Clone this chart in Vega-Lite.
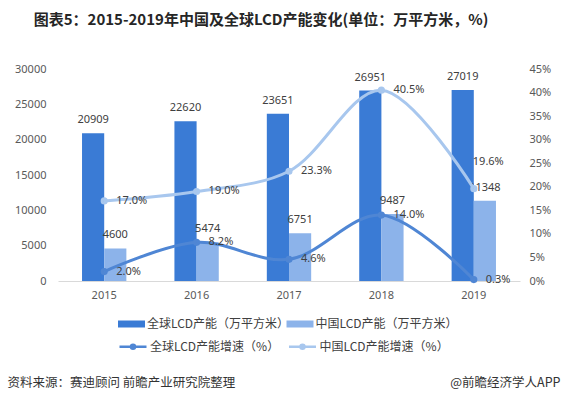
{
  "$schema": "https://vega.github.io/schema/vega-lite/v6.json",
  "width": 462,
  "height": 212,
  "autosize": {"type": "none"},
  "padding": {"left": 58, "top": 69, "right": 46, "bottom": 115},
  "background": "white",
  "config": {"view": {"stroke": null}, "font": "Noto Sans CJK SC"},
  "title": {
    "text": "图表5：2015-2019年中国及全球LCD产能变化(单位：万平方米，%)",
    "fontSize": 15,
    "fontWeight": "bold",
    "font": "Noto Sans CJK SC",
    "color": "#262626",
    "anchor": "middle",
    "baseline": "middle",
    "offset": 28,
    "dx": -28
  },
  "datasets": {
    "cap": [
      {"year": "2015", "series": "全球LCD产能（万平方米）", "value": 20909},
      {"year": "2015", "series": "中国LCD产能（万平方米）", "value": 4600},
      {"year": "2016", "series": "全球LCD产能（万平方米）", "value": 22620},
      {"year": "2016", "series": "中国LCD产能（万平方米）", "value": 5474},
      {"year": "2017", "series": "全球LCD产能（万平方米）", "value": 23651},
      {"year": "2017", "series": "中国LCD产能（万平方米）", "value": 6751},
      {"year": "2018", "series": "全球LCD产能（万平方米）", "value": 26951},
      {"year": "2018", "series": "中国LCD产能（万平方米）", "value": 9487},
      {"year": "2019", "series": "全球LCD产能（万平方米）", "value": 27019},
      {"year": "2019", "series": "中国LCD产能（万平方米）", "value": 11348}
    ],
    "growth": [
      {"year": "2015", "series": "全球LCD产能增速（%）", "rate": 0.02},
      {"year": "2016", "series": "全球LCD产能增速（%）", "rate": 0.082},
      {"year": "2017", "series": "全球LCD产能增速（%）", "rate": 0.046},
      {"year": "2018", "series": "全球LCD产能增速（%）", "rate": 0.14},
      {"year": "2019", "series": "全球LCD产能增速（%）", "rate": 0.003},
      {"year": "2015", "series": "中国LCD产能增速（%）", "rate": 0.17},
      {"year": "2016", "series": "中国LCD产能增速（%）", "rate": 0.19},
      {"year": "2017", "series": "中国LCD产能增速（%）", "rate": 0.233},
      {"year": "2018", "series": "中国LCD产能增速（%）", "rate": 0.405},
      {"year": "2019", "series": "中国LCD产能增速（%）", "rate": 0.196}
    ]
  },
  "encoding": {
    "x": {
      "field": "year",
      "type": "nominal",
      "sort": null,
      "scale": {"paddingInner": 0.52, "paddingOuter": 0.26},
      "axis": {
        "labelAngle": 0,
        "labelFont": "Noto Sans",
        "labelFontSize": 11,
        "labelColor": "#595959",
        "labelPadding": 8,
        "ticks": false,
        "domainColor": "#d9d9d9",
        "domainWidth": 1,
        "title": "资料来源：赛迪顾问 前瞻产业研究院整理",
        "titleFont": "Noto Sans CJK SC",
        "titleFontSize": 12.5,
        "titleFontWeight": "normal",
        "titleColor": "#333333",
        "titleAnchor": "start",
        "titleAlign": "left",
        "titleBaseline": "middle",
        "titleX": -51,
        "titleY": 101
      }
    }
  },
  "layer": [
    {
      "data": {"name": "cap"},
      "encoding": {
        "y": {
          "field": "value",
          "type": "quantitative",
          "scale": {"domain": [0, 30000]},
          "axis": {
            "orient": "left",
            "values": [0, 5000, 10000, 15000, 20000, 25000, 30000],
            "format": "d",
            "grid": false,
            "ticks": false,
            "domain": false,
            "labelPadding": 12,
            "labelFont": "Noto Sans",
            "labelFontSize": 11,
            "labelColor": "#595959",
            "title": null
          }
        },
        "xOffset": {
          "field": "series",
          "type": "nominal",
          "sort": null,
          "scale": {"domain": ["全球LCD产能（万平方米）", "中国LCD产能（万平方米）"], "paddingInner": 0, "paddingOuter": 0}
        }
      },
      "layer": [
        {
          "mark": {"type": "bar"},
          "encoding": {
            "color": {
              "field": "series",
              "type": "nominal",
              "scale": {
                "domain": ["全球LCD产能（万平方米）", "中国LCD产能（万平方米）"],
                "range": ["#3a7bd5", "#8cb3ea"]
              },
              "legend": {
                "orient": "none",
                "legendX": 63.5,
                "legendY": 245,
                "direction": "horizontal",
                "columns": 2,
                "title": null,
                "symbolSize": 400,
                "symbolType": "M-1.35,-0.35H1.35V0.35H-1.35Z",
                "symbolStrokeWidth": 0,
                "labelFont": "Noto Sans CJK SC",
                "labelFontSize": 12,
                "labelColor": "#404040",
                "labelOffset": 5.5,
                "columnPadding": -3.5,
                "rowPadding": 1,
                "padding": 0,
                "labelLimit": 300
              }
            }
          }
        },
        {
          "mark": {"type": "text", "dy": -13, "baseline": "middle", "fontSize": 11, "font": "Noto Sans", "color": "#404040"},
          "encoding": {
            "text": {"field": "value", "type": "quantitative", "format": "d"}
          }
        }
      ]
    },
    {
      "data": {"name": "growth"},
      "encoding": {
        "y": {
          "field": "rate",
          "type": "quantitative",
          "scale": {"domain": [0, 0.45]},
          "axis": {
            "orient": "right",
            "values": [0, 0.05, 0.1, 0.15, 0.2, 0.25, 0.3, 0.35, 0.4, 0.45],
            "format": ".0%",
            "grid": false,
            "ticks": false,
            "domain": false,
            "labelPadding": 9,
            "labelFont": "Noto Sans",
            "labelFontSize": 11,
            "labelColor": "#595959",
            "title": "@前瞻经济学人APP",
            "titleFont": "Noto Sans CJK SC",
            "titleFontSize": 12.5,
            "titleFontWeight": "normal",
            "titleColor": "#333333",
            "titleAngle": 0,
            "titleAlign": "right",
            "titleBaseline": "middle",
            "titleX": 40,
            "titleY": 313
          }
        },
        "stroke": {
          "field": "series",
          "type": "nominal",
          "scale": {
            "domain": ["全球LCD产能增速（%）", "中国LCD产能增速（%）"],
            "range": ["#4f86d4", "#a8c7ee"]
          },
          "legend": {
            "orient": "none",
            "legendX": 63.5,
            "legendY": 266,
            "direction": "horizontal",
            "columns": 2,
            "title": null,
            "symbolSize": 400,
            "symbolType": "M-1.35,0H1.35M-0.2,0A0.2,0.2,0,1,1,0.2,0A0.2,0.2,0,1,1,-0.2,0Z",
            "symbolStrokeWidth": 2.5,
            "labelFont": "Noto Sans CJK SC",
            "labelFontSize": 12,
            "labelColor": "#404040",
            "labelOffset": 5.5,
            "columnPadding": 4.5,
            "rowPadding": 1,
            "padding": 0,
            "labelLimit": 300
          }
        }
      },
      "layer": [
        {
          "mark": {"type": "line", "interpolate": "catmull-rom", "strokeWidth": 3}
        },
        {
          "mark": {"type": "point", "filled": false, "size": 10, "strokeWidth": 4, "opacity": 1}
        },
        {
          "transform": [{"filter": "!(datum.series == '中国LCD产能增速（%）' && datum.year == '2019')"}],
          "mark": {"type": "text", "align": "left", "dx": 12, "baseline": "middle", "fontSize": 11, "font": "Noto Sans", "fill": "#404040", "strokeWidth": 0},
          "encoding": {
            "text": {"field": "rate", "type": "quantitative", "format": ".1%"}
          }
        },
        {
          "transform": [{"filter": "datum.series == '中国LCD产能增速（%）' && datum.year == '2019'"}],
          "mark": {"type": "text", "align": "left", "dx": -1, "dy": -27, "baseline": "middle", "fontSize": 11, "font": "Noto Sans", "fill": "#404040", "strokeWidth": 0},
          "encoding": {
            "text": {"field": "rate", "type": "quantitative", "format": ".1%"}
          }
        }
      ]
    }
  ],
  "resolve": {"scale": {"y": "independent"}}
}
